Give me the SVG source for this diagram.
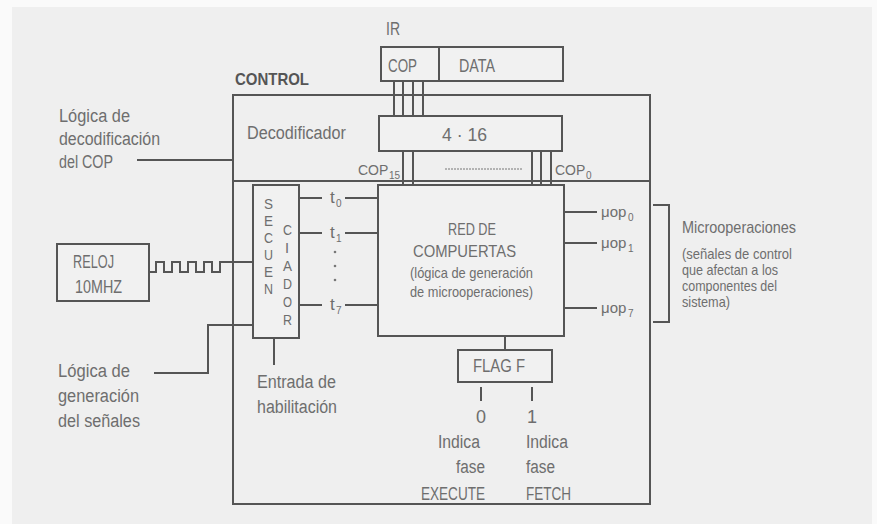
<svg xmlns="http://www.w3.org/2000/svg" width="877" height="524" viewBox="0 0 877 524">
<style>
text{font-family:"Liberation Sans",Arial,sans-serif;fill:#6e6e6e;font-size:18px}
.b{font-weight:bold;fill:#555;font-size:17px}
.m{font-size:17px}
.s{font-size:15px}
.q{font-size:14.5px}
.sub{font-size:10px}
.c{text-anchor:middle}
.ln{fill:none;stroke:#555;stroke-width:2}
.box{fill:#f1f1f1;stroke:#555;stroke-width:2}
</style>
<rect x="0" y="0" width="877" height="524" fill="#fafafa"/>
<rect x="12" y="7" width="860" height="517" fill="#efefef"/>

<g id="connectors">
<path class="ln" d="M394,81V116M403,81V116M413,81V116M423,81V116"/>
<path class="ln" d="M403,151V185M413,151V185M532,151V185M541,151V185M551,151V185"/>
<path d="M445,169H523" stroke="#777" stroke-width="1" stroke-dasharray="2,1"/>
<path class="ln" d="M300,198H322M345,198H378M300,233H322M345,233H378M300,305H322M345,305H378"/>
<path class="ln" d="M565,212H597M565,243H597M565,308H597"/>
<path class="ln" d="M653,205H669V322H653"/>
<path class="ln" d="M149,272H156V262H164V272H172V262H180V272H188V262H196V272H204V262H212V272H220V262H253"/>
<path class="ln" d="M137,160H233"/>
<path class="ln" d="M154,373H208V325H253"/>
<path class="ln" d="M274,338V365"/>
<path class="ln" d="M505,336V350"/>
<path class="ln" d="M481,387V401M532,387V401"/>
<circle cx="335" cy="252" r="1.3" fill="#777"/>
<circle cx="335" cy="266" r="1.3" fill="#777"/>
<circle cx="335" cy="280" r="1.3" fill="#777"/>
</g>

<g id="control">
<rect class="ln" x="233" y="95" width="417" height="409"/>
<path class="ln" d="M233,181H650"/>
<text class="b" x="235" y="85" textLength="74" lengthAdjust="spacingAndGlyphs">CONTROL</text>
</g>

<g id="ir">
<text x="386" y="35" textLength="14" lengthAdjust="spacingAndGlyphs">IR</text>
<rect class="box" x="381" y="47" width="182" height="34"/>
<path class="ln" d="M439,47V81"/>
<text x="388" y="72" style="font-size:19px" textLength="29" lengthAdjust="spacingAndGlyphs">COP</text>
<text x="459" y="72" style="font-size:19px" textLength="36" lengthAdjust="spacingAndGlyphs">DATA</text>
</g>

<g id="decoder">
<text x="247" y="139" textLength="99" lengthAdjust="spacingAndGlyphs">Decodificador</text>
<rect class="box" x="379" y="116" width="183" height="35"/>
<text x="442" y="141" textLength="45" lengthAdjust="spacingAndGlyphs">4 · 16</text>
<text x="358" y="175" style="font-size:14px">COP</text>
<text class="sub" x="389" y="179">15</text>
<text x="555" y="175" style="font-size:14px">COP</text>
<text class="sub" x="586" y="179">0</text>
</g>

<g id="red">
<rect class="box" x="378" y="185" width="186" height="151"/>
<text class="m" x="448" y="235" textLength="48" lengthAdjust="spacingAndGlyphs">RED DE</text>
<text class="m" x="413" y="257" textLength="103" lengthAdjust="spacingAndGlyphs">COMPUERTAS</text>
<text class="s" x="410" y="278" textLength="123" lengthAdjust="spacingAndGlyphs">(lógica de generación</text>
<text class="s" x="410" y="297" textLength="123" lengthAdjust="spacingAndGlyphs">de microoperaciones)</text>
</g>

<g id="secuenciador">
<rect class="box" x="253" y="185" width="46" height="153"/>
<text class="q" x="264" y="209" textLength="9" lengthAdjust="spacingAndGlyphs">S</text>
<text class="q" x="264" y="226" textLength="9" lengthAdjust="spacingAndGlyphs">E</text>
<text class="q" x="264" y="243" textLength="9" lengthAdjust="spacingAndGlyphs">C</text>
<text class="q" x="264" y="260" textLength="9" lengthAdjust="spacingAndGlyphs">U</text>
<text class="q" x="264" y="277" textLength="9" lengthAdjust="spacingAndGlyphs">E</text>
<text class="q" x="264" y="294" textLength="9" lengthAdjust="spacingAndGlyphs">N</text>
<text class="q" x="283" y="235" textLength="9" lengthAdjust="spacingAndGlyphs">C</text>
<text class="q c" x="287" y="253">I</text>
<text class="q" x="283" y="271" textLength="9" lengthAdjust="spacingAndGlyphs">A</text>
<text class="q" x="283" y="289" textLength="9" lengthAdjust="spacingAndGlyphs">D</text>
<text class="q" x="283" y="307" textLength="9" lengthAdjust="spacingAndGlyphs">O</text>
<text class="q" x="283" y="325" textLength="9" lengthAdjust="spacingAndGlyphs">R</text>
<text class="m" x="330" y="203">t</text>
<text class="sub" x="336" y="207">0</text>
<text class="m" x="330" y="238">t</text>
<text class="sub" x="336" y="242">1</text>
<text class="m" x="330" y="310">t</text>
<text class="sub" x="336" y="314">7</text>
</g>

<g id="microops">
<text x="601" y="217" style="font-size:15px">μop</text>
<text class="sub" x="628" y="221">0</text>
<text x="601" y="248" style="font-size:15px">μop</text>
<text class="sub" x="628" y="252">1</text>
<text x="601" y="313" style="font-size:15px">μop</text>
<text class="sub" x="628" y="317">7</text>
<text class="m" x="682" y="233" textLength="114" lengthAdjust="spacingAndGlyphs">Microoperaciones</text>
<text class="s" x="682" y="259" textLength="110" lengthAdjust="spacingAndGlyphs">(señales de control</text>
<text class="s" x="682" y="275" textLength="96" lengthAdjust="spacingAndGlyphs">que afectan a los</text>
<text class="s" x="682" y="291" textLength="95" lengthAdjust="spacingAndGlyphs">componentes del</text>
<text class="s" x="682" y="307" textLength="48" lengthAdjust="spacingAndGlyphs">sistema)</text>
</g>

<g id="reloj">
<rect class="box" x="57" y="244" width="92" height="57"/>
<text x="73" y="268" textLength="41" lengthAdjust="spacingAndGlyphs">RELOJ</text>
<text x="75" y="293" textLength="47" lengthAdjust="spacingAndGlyphs">10MHZ</text>
</g>

<g id="logica-decod">
<text x="59" y="122" textLength="71" lengthAdjust="spacingAndGlyphs">Lógica de</text>
<text x="59" y="145" textLength="101" lengthAdjust="spacingAndGlyphs">decodificación</text>
<text x="59" y="168" textLength="54" lengthAdjust="spacingAndGlyphs">del COP</text>
</g>

<g id="logica-gen">
<text x="58" y="377" textLength="72" lengthAdjust="spacingAndGlyphs">Lógica de</text>
<text x="58" y="402" textLength="81" lengthAdjust="spacingAndGlyphs">generación</text>
<text x="58" y="427" textLength="82" lengthAdjust="spacingAndGlyphs">del señales</text>
</g>

<g id="entrada">
<text x="257" y="388" textLength="79" lengthAdjust="spacingAndGlyphs">Entrada de</text>
<text x="257" y="413" textLength="80" lengthAdjust="spacingAndGlyphs">habilitación</text>
</g>

<g id="flag">
<rect class="box" x="458" y="350" width="94" height="32"/>
<text x="473" y="372" textLength="52" lengthAdjust="spacingAndGlyphs">FLAG F</text>
<text class="c" x="481" y="423">0</text>
<text class="c" x="532" y="423">1</text>
<text x="438" y="448" textLength="42" lengthAdjust="spacingAndGlyphs">Indica</text>
<text x="456" y="473" textLength="29" lengthAdjust="spacingAndGlyphs">fase</text>
<text x="421" y="500" textLength="64" lengthAdjust="spacingAndGlyphs">EXECUTE</text>
<text x="526" y="448" textLength="42" lengthAdjust="spacingAndGlyphs">Indica</text>
<text x="526" y="473" textLength="29" lengthAdjust="spacingAndGlyphs">fase</text>
<text x="526" y="500" textLength="45" lengthAdjust="spacingAndGlyphs">FETCH</text>
</g>
</svg>
